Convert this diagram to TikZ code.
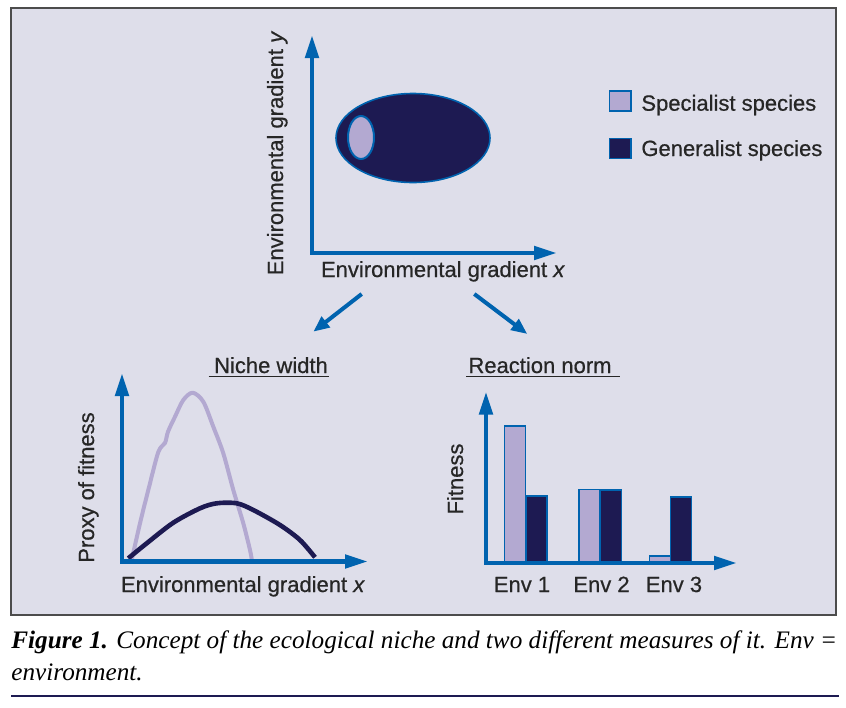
\documentclass[tikz,border=0pt]{standalone}
\usepackage{fontspec}
\setmainfont{Liberation Sans}[FakeBold=0.6]
\newfontfamily\capfont{Liberation Serif}
\usetikzlibrary{arrows.meta}
\definecolor{panelbg}{HTML}{DEDEEA}
\definecolor{axisblue}{HTML}{0063AF}
\definecolor{navy}{HTML}{1D1A52}
\definecolor{lilac}{HTML}{B3A9D1}
\definecolor{inkgray}{HTML}{262626}
\tikzset{
  axis/.style={draw=axisblue, line width=2.3pt,
    {Triangle[length=11.5pt,width=6.5pt]}-{Triangle[length=11.5pt,width=6.5pt]}},
  flow/.style={draw=axisblue, line width=2pt, -{Triangle[length=8pt,width=6.5pt]}},
  lbl/.style={font=\fontsize{11}{13}\selectfont, text=inkgray, inner sep=0pt},
  bar/.style={draw=axisblue, line width=0.7pt},
  uline/.style={draw=inkgray, line width=0.8pt}
}
\begin{document}
\begin{tikzpicture}[x=0.5pt, y=-0.5pt]
  \useasboundingbox (0,0) rectangle (846,707);
  \draw[gray!60!black, line width=0.8pt, fill=panelbg] (11,8) rectangle (836,615);

  \coordinate (o1) at (312,253);
  \coordinate (y1) at (312,35);
  \coordinate (x1) at (557,253);
  \draw[fill=navy, draw=axisblue, line width=0.8pt] (413,138) ellipse [x radius=77, y radius=44.5];
  \draw[fill=lilac, draw=axisblue, line width=1pt] (361,137.5) ellipse [x radius=13, y radius=21.5];
  \draw[axis] (y1) -- (o1) -- (x1);
  \node[lbl, rotate=90, anchor=base] (ylab1) at (283,153) {Environmental gradient \textit{y}};
  \node[lbl, anchor=base] (xlab1) at (443,277) {Environmental gradient \textit{x}};

  \draw[bar, fill=lilac] (609.5,91) rectangle (631,111);
  \draw[bar, fill=navy] (609.5,138.5) rectangle (631,158.5);
  \node[lbl, anchor=base west] (spec) at (641,110.7) {Specialist species};
  \node[lbl, anchor=base west] (gen) at (641,156) {Generalist species};

  \coordinate (a1) at (361.7,294);
  \coordinate (b1) at (313.3,331.7);
  \coordinate (a2) at (474.3,294);
  \coordinate (b2) at (527.3,334);
  \draw[flow] (a1) -- (b1);
  \draw[flow] (a2) -- (b2);

  \node[lbl, anchor=base] (niche) at (271,373) {Niche width};
  \draw[uline] ([xshift=-2.5pt,yshift=-1.75pt]niche.base west) -- ([xshift=0.5pt,yshift=-1.75pt]niche.base east);
  \node[lbl, anchor=base] (react) at (540,373) {Reaction norm};
  \draw[uline] ([xshift=-1pt,yshift=-1.75pt]react.base west) -- ([xshift=4pt,yshift=-1.75pt]react.base east);

  \draw[lilac, line width=2pt, line join=round] plot[smooth, tension=0.5] coordinates {
    (131.7,560) (140,523.3) (148.3,490) (158.3,452) (165,443) (168,431.7) (175,416.7)
    (183.3,400) (192.7,392.7) (203.3,401.7) (213.3,426.7) (223.3,453.3) (233.3,490)
    (243.3,523.3) (250,550) (251.7,559.3)};
  \draw[navy, line width=2.3pt, line join=round] plot[smooth] coordinates {
    (128.3,558.3) (146.7,543.3) (173.3,522.7) (200,508.3) (216.7,503.3) (236.7,503.3)
    (253.3,510) (280,525) (300,540) (315,557.3)};
  \coordinate (o2) at (122,561.5);
  \coordinate (y2) at (122,373);
  \coordinate (x2) at (368,561.5);
  \draw[axis] (y2) -- (o2) -- (x2);
  \node[lbl, rotate=90, anchor=base] (ylab2) at (94,487.5) {Proxy of fitness};
  \node[lbl, anchor=base] (xlab2) at (243,592) {Environmental gradient \textit{x}};

  \foreach \x/\h/\c in {504.5/426/lilac, 526/496/navy, 579/489.5/lilac,
                        600.5/490/navy, 649.5/556/lilac, 670.5/497/navy}
    \draw[bar, fill=\c] (\x,563) rectangle (\x+21,\h);
  \coordinate (o3) at (486,563);
  \coordinate (y3) at (486,391.5);
  \coordinate (x3) at (737,563);
  \draw[axis] (y3) -- (o3) -- (x3);
  \node[lbl, rotate=90, anchor=base] (ylab3) at (463,479) {Fitness};
  \foreach \n/\xc in {1/522, 2/601.5, 3/674}
    \node[lbl, anchor=base] (env\n) at (\xc,592) {Env \n};

  \node[anchor=base west, inner sep=0pt, font=\capfont\fontsize{12.6}{16}\selectfont] (cap1) at (11,648)
    {\textbf{\textit{Figure 1.}} \textit{Concept of the ecological niche and two different measures of it. Env =}};
  \node[anchor=base west, inner sep=0pt, font=\capfont\fontsize{12.6}{16}\selectfont] (cap2) at (11,680)
    {\textit{environment.}};
  \draw[navy, line width=0.8pt] (11,696) -- (839,696);
\end{tikzpicture}
\end{document}
